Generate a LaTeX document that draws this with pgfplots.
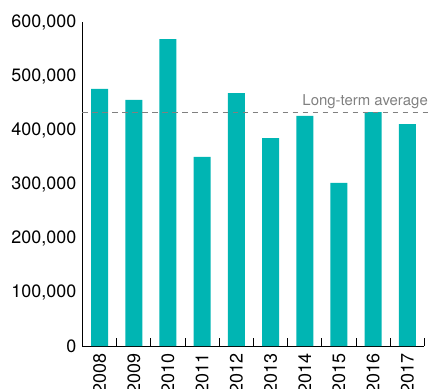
\documentclass[border=0pt]{standalone}
\usepackage{fontspec}
\setmainfont{TeX Gyre Heros}
\usepackage{pgfplots}
\pgfplotsset{compat=1.18}
\definecolor{barteal}{RGB}{0,181,179}
\definecolor{avggray}{RGB}{128,128,128}
\begin{document}
\begin{tikzpicture}
\begin{axis}[
  scale only axis,
  width=342bp, height=324bp,
  xmin=-0.5, xmax=9.5,
  ymin=0, ymax=600000,
  axis x line*=bottom, axis y line*=left,
  axis line style={-, line width=0.9bp, black},
  xtick={0,...,9},
  xticklabels={2008,2009,2010,2011,2012,2013,2014,2015,2016,2017},
  ytick={0,100000,...,600000},
  major tick length=0pt,
  tick align=inside,
  extra x ticks={0.5,1.5,...,9.5},
  extra x tick labels={},
  extra x tick style={major tick length=8bp, tick style={black, line width=0.8bp}},
  scaled y ticks=false,
  /pgf/number format/.cd, fixed, 1000 sep={,}, assume math mode=true,
  /pgfplots/.cd,
  yticklabel style={anchor=east, inner sep=0pt, font=\fontsize{18}{20}\selectfont},
  yticklabel shift=6bp,
  xticklabel style={rotate=90, anchor=east, inner sep=0pt, font=\fontsize{18}{20}\selectfont},
  xticklabel shift=7.5bp,
  clip=false,
]
\addplot[ybar, bar width=17bp, fill=barteal, draw=none] coordinates {
  (0,476000) (1,456000) (2,568500) (3,350000) (4,468500)
  (5,385000) (6,426000) (7,302000) (8,433300) (9,411000)
};
\addplot[avggray, line width=0.9bp, dash pattern=on 5.5bp off 4.5bp] coordinates {(-0.5,433000) (9.63,433000)};
\node[anchor=base east, inner sep=0pt, text=avggray, font=\fontsize{15}{17}\selectfont] at ([xshift=3.5bp,yshift=6.5bp]axis cs:9.5,433000) {Long-term average};
\end{axis}
\pgfresetboundingbox
\path (-82.5bp,-43bp) rectangle (346.5bp,346bp);
\end{tikzpicture}
\end{document}
